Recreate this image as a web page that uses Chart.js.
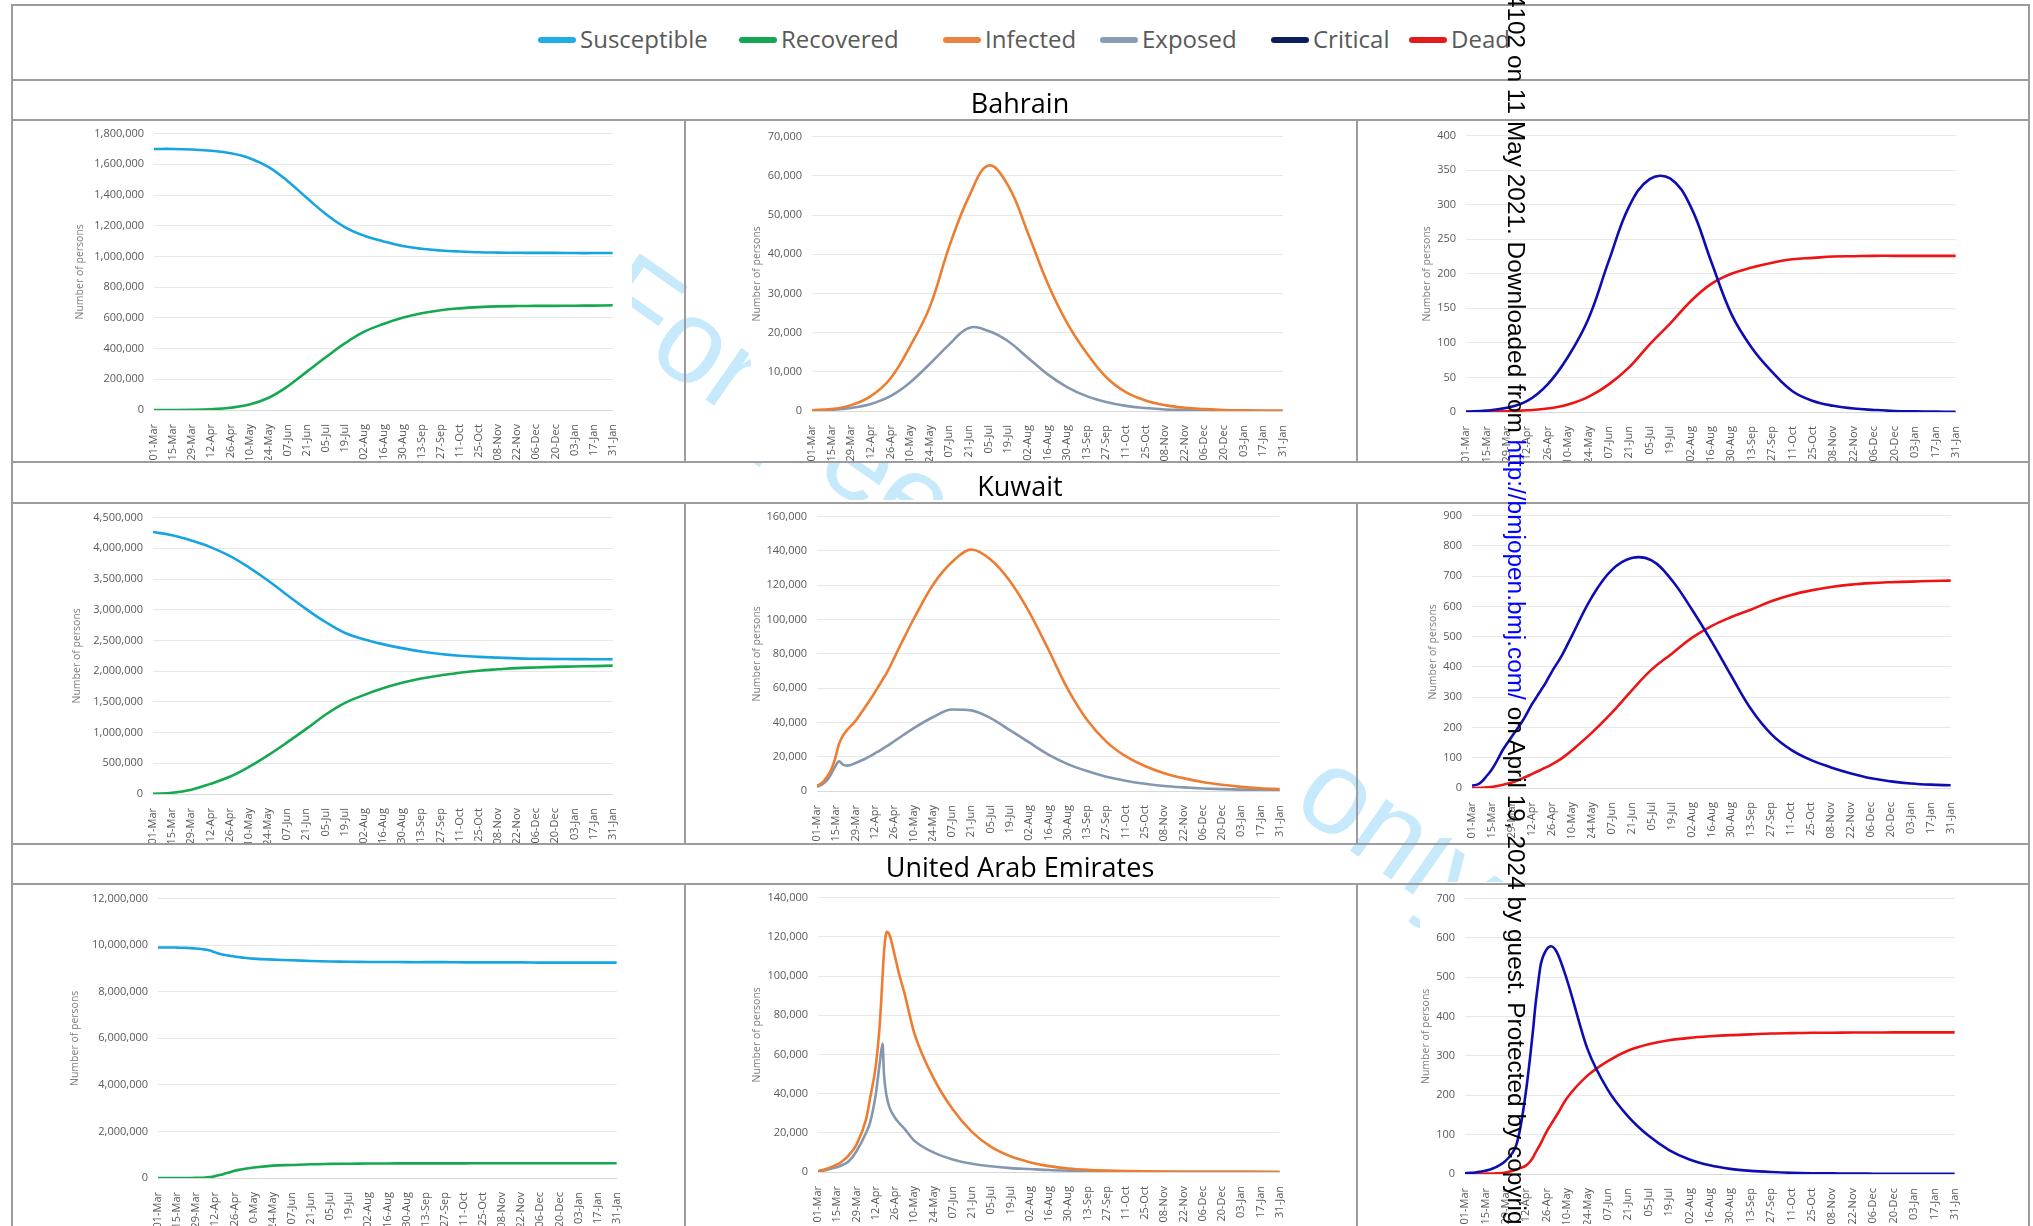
<!DOCTYPE html>
<html>
<head>
<meta charset="utf-8">
<script src="https://cdn.jsdelivr.net/npm/chart.js@4.4.0/dist/chart.umd.min.js"></script>
<style>
  html, body { margin: 0; padding: 0; background: #fff; overflow: hidden; }
  #page { position: relative; width: 2033px; height: 1226px; overflow: hidden; background: #fff; font-family: "Open Sans", sans-serif; }
  .hl { position: absolute; height: 2px; background: #9c9c9c; z-index: 3; }
  .vl { position: absolute; width: 2px; background: #9c9c9c; z-index: 3; }
  canvas { position: absolute; background: #fff; z-index: 1; }
  .country { position: absolute; left: 12px; width: 2016px; text-align: center; font-size: 27px; line-height: 34px; color: #000; z-index: 2; }
  .lg-line { position: absolute; top: 37px; width: 38px; height: 6px; border-radius: 3px; z-index: 2; }
  .lg-text { position: absolute; top: 23px; font-size: 24px; line-height: 32px; color: #595959; z-index: 2; white-space: nowrap; }
  #diag { position: absolute; white-space: nowrap; font-family: "Liberation Sans", Arial, sans-serif; font-size: 119px; line-height: 119px; color: #c6e9fb; z-index: 0; transform-origin: 0 101px; transform: rotate(35deg); }
  #stamp { position: absolute; white-space: nowrap; font-family: "Liberation Sans", Arial, sans-serif; font-size: 24.4px; line-height: 26px; color: #000; z-index: 4; transform-origin: 0 0; transform: rotate(90deg); }
</style>
</head>
<body>
<div id="page"></div>
<script>
//*Tick labels (every 14 days, 01-Mar to 31-Jan)
const tickLabels = ['01-Mar','15-Mar','29-Mar','12-Apr','26-Apr','10-May','24-May','07-Jun','21-Jun','05-Jul','19-Jul','02-Aug','16-Aug','30-Aug','13-Sep','27-Sep','11-Oct','25-Oct','08-Nov','22-Nov','06-Dec','20-Dec','03-Jan','17-Jan','31-Jan'];

const days = [0,14,28,42,56,70,84,98,112,126,140,154,168,182,196,210,224,238,252,266,280,294,308,322,336];
const fineDays = [0,4,7,10,13,16,19,22,28,35,38,42,45,47,48,50,52,56,59,63,70,84,98,112,126,140,154,168,182,196,210,224,238,252,266,280,294,308,322,336];

//*Legend
const seriesNames = ['Susceptible','Recovered','Infected','Exposed','Critical','Dead'];
const legendColors = ['#22ade6','#14a652','#ec8441','#8a9cb5','#0c1f5c','#e31b1b'];
const countries = ['Bahrain','Kuwait','United Arab Emirates'];

//*Bahrain (days)
const bhSus = [1700000,1700000,1696000,1688000,1672000,1640000,1582000,1490000,1380000,1275000,1190000,1135000,1098000,1068000,1050000,1039000,1032000,1027000,1025000,1024000,1023000,1023000,1022000,1022000,1022000];
const bhRec = [0,0,1000,5000,15000,36000,80000,155000,250000,345000,435000,510000,560000,600000,630000,650000,662000,670000,675000,677000,678000,678000,679000,680000,682000];
const bhInf = [200,500,1500,3800,8300,16500,26500,42000,54700,62600,57500,45500,32700,22500,14800,8600,4800,2700,1500,840,500,250,150,80,50];
const bhExp = [100,300,800,1800,3800,7300,12000,17000,21200,20400,17800,13600,9400,6100,3800,2300,1300,750,400,250,150,100,50,30,20];
const bhCri = [0.5,2,6,16,40,80,135,219,298,337,338,298,219,142,93,58,30,16,9,5,3,1.5,0.9,0.5,0.2];
const bhDead = [0,0.3,1,2.5,5,11,22,40,65,98,128,160,185,200,209,216,221,223,225,225.5,226,226,226,226,226];

//*Kuwait (S/R on days, rest on fineDays)
const kwSus = [4265000,4212000,4127000,4020000,3876000,3690000,3477000,3240000,3010000,2800000,2625000,2520000,2440000,2375000,2320000,2280000,2252000,2233000,2220000,2208000,2202000,2198000,2196000,2195000,2194000];
const kwRec = [5000,20000,70000,165000,280000,440000,630000,840000,1060000,1290000,1480000,1610000,1720000,1810000,1880000,1930000,1975000,2007000,2030000,2050000,2060000,2070000,2077000,2082000,2090000];
const kwInf = [3000,5000,8000,12000,18500,27500,32500,35700,40900,49000,52500,57500,61500,64000,65500,68000,71000,77500,82500,89000,100000,120000,133500,140800,135000,122500,104500,82500,59500,41500,28800,20300,14600,10400,7500,5200,3600,2400,1600,1100];
const kwExp = [2500,4000,6000,9500,14000,17300,15200,14800,16300,18800,20000,22000,23300,24300,24800,25800,26800,29000,30600,32800,36500,43000,47500,47000,42500,35500,28300,21200,15700,11600,8300,6000,4200,2900,2100,1500,1100,800,600,400];
const kwCri = [8,12,22,38,55,77,103,129,170,218,242,276,298,313,320,335,350,384,407,437,502,630,720,760,752,688,592,485,370,259,178,126,92,68,48,32,22,15,11,9];
const kwDead = [0,0.5,1,2,3,5,8,11,18,31,37,46,53,57,59,64,68,78,86,98,124,182,248,322,391,443,495,535,565,590,617,638,653,664,672,677,680,682,684,685];

//*United Arab Emirates (fineDays)
const aeSus = [9900000,9900000,9900000,9900000,9900000,9890000,9890000,9880000,9860000,9810000,9770000,9690000,9630000,9600000,9590000,9570000,9550000,9510000,9490000,9460000,9420000,9380000,9350000,9320000,9300000,9290000,9280000,9280000,9270000,9270000,9270000,9260000,9260000,9260000,9260000,9250000,9250000,9250000,9250000,9250000];
const aeRec = [0,0,0,0,0,0,0,0,5000,20000,40000,80000,130000,150000,170000,210000,240000,310000,350000,390000,450000,530000,560000,590000,605000,615000,620000,625000,627000,628000,630000,630000,631000,632000,632000,633000,633000,634000,634000,634000];
const aeInf = [500,1200,1800,2600,3600,4600,6300,8200,14000,27000,38000,54000,76000,100000,112000,122500,121000,110000,101000,91000,71000,48000,32000,20500,12800,8000,5000,3000,1800,1100,700,450,300,200,140,100,70,50,40,30];
const aeExp = [300,700,1200,1800,2300,3000,4000,5200,10600,20000,25500,39500,56000,65500,50000,38500,33000,27700,25000,22000,16000,10000,6400,4200,2900,2000,1500,1000,700,500,350,250,180,130,100,70,50,40,30,20];
const aeCri = [2,3,4,5.5,7.5,10,14,19,34,72,118,215,308,378,418,480,533,571,579,564,493,318,214,146,97,61,37,22,13,8,5,3,2,1.5,1,0.8,0.6,0.5,0.4,0.3];
const aeDead = [0,0.2,0.3,0.5,0.7,1,1.3,1.7,4,11,15,22,33,44,52,65,78,108,126,150,193,250,287,314,330,340,346,350,353,355,357,358,359,359,359.5,359.5,360,360,360,360];

//*Line colours in the panels
const cSus = '#17a4e2', cRec = '#15a84f', cInf = '#ed7d31', cExp = '#8497b0', cCri = '#0d0db2', cDead = '#ee1414';

const page = document.getElementById('page');

//*Table lines
const hLines = [4, 79, 119, 461, 502, 843, 883];
hLines.forEach(y => {
  const d = document.createElement('div');
  d.className = 'hl';
  d.style.left = '11px'; d.style.top = y + 'px'; d.style.width = '2019px';
  page.appendChild(d);
});
const vFull = [11, 2028];
vFull.forEach(x => {
  const d = document.createElement('div');
  d.className = 'vl';
  d.style.left = x + 'px'; d.style.top = '4px'; d.style.height = '1222px';
  page.appendChild(d);
});
const chartRows = [[119, 461], [502, 843], [883, 1226]];
chartRows.forEach(r => {
  [684, 1356].forEach(x => {
    const d = document.createElement('div');
    d.className = 'vl';
    d.style.left = x + 'px'; d.style.top = r[0] + 'px'; d.style.height = (r[1] - r[0]) + 'px';
    page.appendChild(d);
  });
});

//*Legend
const lgLineX = [538, 739, 943, 1100, 1271, 1409];
seriesNames.forEach((name, i) => {
  const ln = document.createElement('div');
  ln.className = 'lg-line';
  ln.style.left = lgLineX[i] + 'px';
  ln.style.background = legendColors[i];
  page.appendChild(ln);
  const tx = document.createElement('div');
  tx.className = 'lg-text';
  tx.style.left = (lgLineX[i] + 42) + 'px';
  tx.textContent = name;
  page.appendChild(tx);
});

//*Country rows
const countryTop = [86, 469, 850];
countries.forEach((c, i) => {
  const d = document.createElement('div');
  d.className = 'country';
  d.style.top = countryTop[i] + 'px';
  d.textContent = c;
  page.appendChild(d);
});

//*Peer review watermark (sits behind the charts)
const diag = document.createElement('div');
diag.id = 'diag';
diag.textContent = 'For peer review only';
diag.style.left = '585px';
diag.style.top = (315 - 101) + 'px';
page.appendChild(diag);

//*Download stamp down the right side
const stamp = document.createElement('div');
stamp.id = 'stamp';
stamp.innerHTML = '<span id="pre">BMJ Open: first published as 10.1136/bmjopen-2020-044102 on </span>11 May 2021. Downloaded from <span style="color:#0000ff">http://bmjopen.bmj.com/</span> on April 19, 2024 by guest. Protected by copyright.';
stamp.style.left = '1529px';
page.appendChild(stamp);
stamp.style.top = (89 - document.getElementById('pre').offsetWidth) + 'px';

//*Chart helpers
//? smooth = bezier through the read points, otherwise monotone (keeps sharp peaks)
const lineSet = (xs, ys, color, smooth) => ({
  data: xs.map((x, i) => ({ x: x, y: ys[i] })),
  borderColor: color,
  borderWidth: 2.6,
  pointRadius: 0,
  fill: false,
  tension: 0.4,
  cubicInterpolationMode: smooth ? 'default' : 'monotone'
});

const tickFont = { family: 'Open Sans', size: 11 };

const makeChart = (box, yMax, yStep, sets) => {
  const left = box.tx - 6;
  const top = box.t - 12;
  const w = box.r + 12 - left;
  const h = box.b + 50 - top;
  const cv = document.createElement('canvas');
  cv.width = w; cv.height = h;
  cv.style.left = left + 'px'; cv.style.top = top + 'px';
  cv.style.width = w + 'px'; cv.style.height = h + 'px';
  page.appendChild(cv);
  const yw = box.l - left;
  return new Chart(cv.getContext('2d'), {
    type: 'line',
    data: { datasets: sets },
    options: {
      responsive: false,
      animation: false,
      events: [],
      layout: { padding: { top: 12, right: 12, left: 0, bottom: 0 } },
      plugins: { legend: { display: false }, tooltip: { enabled: false } },
      scales: {
        x: {
          type: 'linear', min: 0, max: 336,
          grid: { display: false },
          border: { display: true, color: '#d9d9d9', width: 1 },
          ticks: {
            stepSize: 14, autoSkip: false, minRotation: 90, maxRotation: 90, padding: 6,
            color: '#595959', font: tickFont,
            callback: v => tickLabels[Math.round(v / 14)]
          },
          afterFit: s => { s.height = 50; }
        },
        y: {
          min: 0, max: yMax,
          grid: { color: '#e8e8e8', drawTicks: false },
          border: { display: false },
          ticks: {
            stepSize: yStep, padding: 10, color: '#595959', font: tickFont,
            callback: v => v.toLocaleString('en-US')
          },
          title: { display: true, text: 'Number of persons', color: '#7f7f7f', font: { family: 'Open Sans', size: 10.5 }, padding: 0 },
          afterFit: s => { s.width = yw; }
        }
      }
    }
  });
};

//*Bahrain
makeChart({ l: 154, r: 620, t: 129, b: 410, tx: 80 }, 1800000, 200000, [lineSet(days, bhSus, cSus, true), lineSet(days, bhRec, cRec, true)]);
makeChart({ l: 812, r: 1290, t: 132, b: 411, tx: 757 }, 70000, 10000, [lineSet(days, bhInf, cInf, true), lineSet(days, bhExp, cExp, true)]);
makeChart({ l: 1466, r: 1963, t: 131, b: 412, tx: 1427 }, 400, 50, [lineSet(days, bhCri, cCri, true), lineSet(days, bhDead, cDead, true)]);

//*Kuwait
makeChart({ l: 153, r: 620, t: 513, b: 794, tx: 77 }, 4500000, 500000, [lineSet(days, kwSus, cSus, true), lineSet(days, kwRec, cRec, true)]);
makeChart({ l: 817, r: 1287, t: 512, b: 791, tx: 757 }, 160000, 20000, [lineSet(fineDays, kwInf, cInf, false), lineSet(fineDays, kwExp, cExp, false)]);
makeChart({ l: 1472, r: 1958, t: 511, b: 788, tx: 1433 }, 900, 100, [lineSet(fineDays, kwCri, cCri, true), lineSet(fineDays, kwDead, cDead, true)]);

//*United Arab Emirates
makeChart({ l: 158, r: 624, t: 894, b: 1178, tx: 75 }, 12000000, 2000000, [lineSet(fineDays, aeSus, cSus, true), lineSet(fineDays, aeRec, cRec, true)]);
makeChart({ l: 818, r: 1287, t: 893, b: 1172, tx: 757 }, 140000, 20000, [lineSet(fineDays, aeInf, cInf, false), lineSet(fineDays, aeExp, cExp, false)]);
makeChart({ l: 1465, r: 1962, t: 894, b: 1174, tx: 1426 }, 700, 100, [lineSet(fineDays, aeCri, cCri, false), lineSet(fineDays, aeDead, cDead, false)]);
</script>
</body>
</html>
